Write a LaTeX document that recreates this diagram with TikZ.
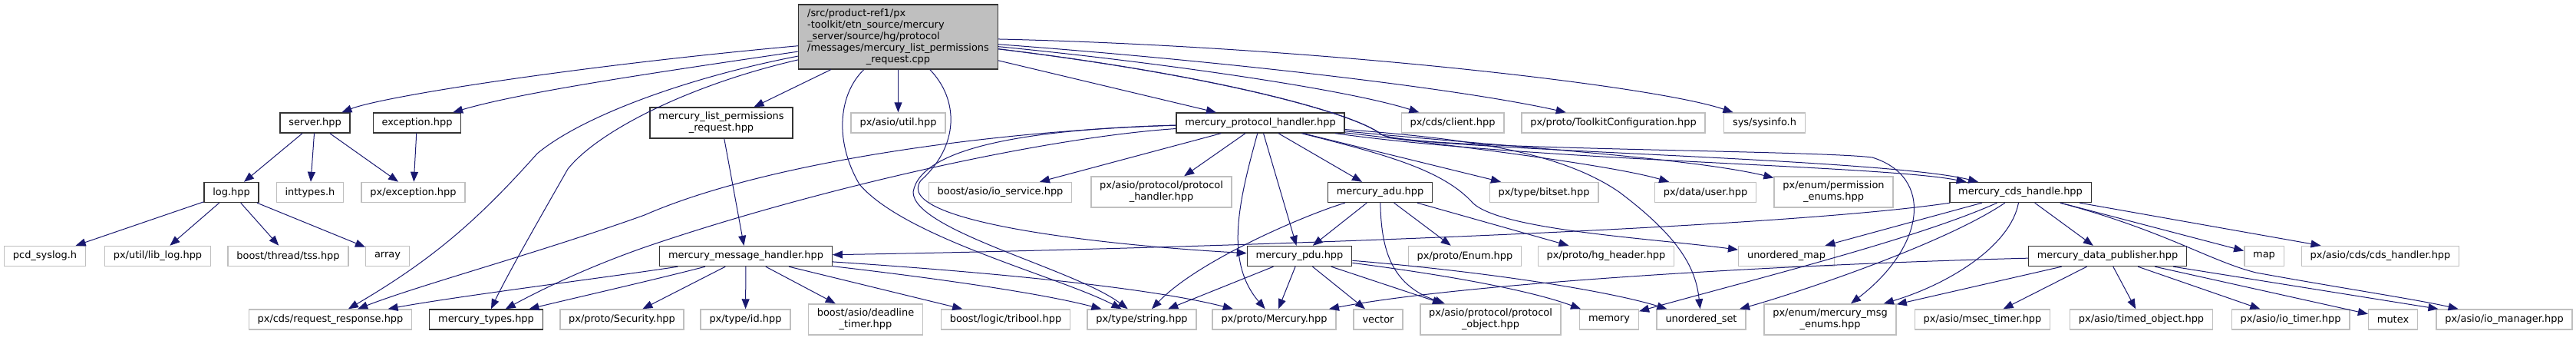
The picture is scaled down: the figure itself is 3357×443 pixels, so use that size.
\documentclass[tikz,border=0pt]{standalone}
\usepackage{fontspec}
\setmainfont{DejaVu Sans}
\usetikzlibrary{arrows.meta}
\definecolor{edgeblue}{HTML}{191970}
\definecolor{boxgrey}{HTML}{BFBFBF}

\begin{document}
\begin{tikzpicture}[x=0.75pt,y=-0.75pt,
  ext/.style={draw=boxgrey,line width=1.1pt,fill=white,inner xsep=8.5pt,inner ysep=0pt,
    minimum height=19.5pt,font=\fontsize{9.7}{11.25}\selectfont,align=center},
  doc/.style={ext,draw=black!80,line width=1pt},
  twoline/.style={minimum height=30pt},
  dep/.style={draw=edgeblue,line width=0.75pt,-{Triangle[length=9.75pt,width=7.5pt]}}]
 \useasboundingbox (0,0) rectangle (3357,443);
 \node[doc,fill=boxgrey,minimum height=63pt] at (1170.5,48) (root) {\begin{tabular}{@{}l@{}}
   /src/product-ref1/px\\
   -toolkit/etn\_source/mercury\\
   \_server/source/hg/protocol\\
   /messages/mercury\_list\_permissions\\
   \multicolumn{1}{@{}c@{}}{\_request.cpp}
 \end{tabular}};
 \node[doc] at (410.5,160) (server) {server.hpp};
 \node[doc] at (543.5,160) (excp) {exception.hpp};
 \node[doc,twoline] at (940,160) (lpreq) {mercury\_list\_permissions\\\_request.hpp};
 \node[ext] at (1170.5,160) (asioutil) {px/asio/util.hpp};
 \node[doc] at (1642.5,160) (proth) {mercury\_protocol\_handler.hpp};
 \node[ext] at (1893,160) (cdscl) {px/cds/client.hpp};
 \node[ext] at (2102.5,160) (tkcfg) {px/proto/ToolkitConfiguration.hpp};
 \node[ext] at (2299.5,160) (sysinfo) {sys/sysinfo.h};
 \node[doc] at (301.5,250.5) (log) {log.hpp};
 \node[ext] at (404,250.5) (inttypes) {inttypes.h};
 \node[ext] at (538.5,250.5) (pxexc) {px/exception.hpp};
 \node[ext] at (1303.5,250.5) (iosvc) {boost/asio/io\_service.hpp};
 \node[ext,twoline] at (1513.5,250) (aproth) {px/asio/protocol/protocol\\\_handler.hpp};
 \node[doc] at (1798.5,250.5) (adu) {mercury\_adu.hpp};
 \node[ext] at (2012,250.5) (bitset) {px/type/bitset.hpp};
 \node[ext] at (2222.5,250.5) (user) {px/data/user.hpp};
 \node[ext,twoline] at (2389.5,250) (permenum) {px/enum/permission\\\_enums.hpp};
 \node[doc] at (2633,250.5) (cdsh) {mercury\_cds\_handle.hpp};
 \node[ext] at (58.5,333.5) (syslog) {pcd\_syslog.h};
 \node[ext] at (205.5,333.5) (liblog) {px/util/lib\_log.hpp};
 \node[ext] at (375.5,333.5) (tss) {boost/thread/tss.hpp};
 \node[ext] at (505,333.5) (array) {array};
 \node[doc] at (972,333.5) (msgh) {mercury\_message\_handler.hpp};
 \node[doc] at (1693.5,333.5) (pdu) {mercury\_pdu.hpp};
 \node[ext] at (1909,333.5) (enum) {px/proto/Enum.hpp};
 \node[ext] at (2093,333.5) (hghdr) {px/proto/hg\_header.hpp};
 \node[ext] at (2328,333.5) (umap) {unordered\_map};
 \node[doc] at (2746.5,333.5) (dpub) {mercury\_data\_publisher.hpp};
 \node[ext] at (2950.5,333.5) (map) {map};
 \node[ext] at (3102,333.5) (cdshdl) {px/asio/cds/cds\_handler.hpp};
 \node[ext] at (430.5,416) (reqresp) {px/cds/request\_response.hpp};
 \node[doc] at (633.5,416) (types) {mercury\_types.hpp};
 \node[ext] at (810.5,416) (security) {px/proto/Security.hpp};
 \node[ext] at (971.5,416) (typeid) {px/type/id.hpp};
 \node[ext,twoline] at (1128,416) (deadline) {boost/asio/deadline\\\_timer.hpp};
 \node[ext] at (1310.5,416) (tribool) {boost/logic/tribool.hpp};
 \node[ext] at (1488,416) (string) {px/type/string.hpp};
 \node[ext] at (1660.5,416) (mercury) {px/proto/Mercury.hpp};
 \node[ext] at (1796,416) (vector) {vector};
 \node[ext,twoline] at (1942.5,416) (protobj) {px/asio/protocol/protocol\\\_object.hpp};
 \node[ext] at (2097,416) (memory) {memory};
 \node[ext] at (2217,416) (uset) {unordered\_set};
 \node[ext,twoline] at (2385,416) (msgenum) {px/enum/mercury\_msg\\\_enums.hpp};
 \node[ext] at (2583.5,416) (msec) {px/asio/msec\_timer.hpp};
 \node[ext] at (2790.5,416) (timed) {px/asio/timed\_object.hpp};
 \node[ext] at (2985,416) (iotimer) {px/asio/io\_timer.hpp};
 \node[ext] at (3118.5,416) (mutex) {mutex};
 \node[ext] at (3263.5,416) (ioman) {px/asio/io\_manager.hpp};

 \draw[dep] (root) .. controls (760,85) and (500,125) .. (server);
 \draw[dep] (root) .. controls (850,95) and (680,120) .. (excp);
 \draw[dep] (root) .. controls (900,100) and (760,150) .. (700,200) .. controls (620,290) and (560,340) .. (reqresp);
 \draw[dep] (root) .. controls (900,110) and (780,170) .. (740,220) .. controls (700,290) and (660,360) .. (types);
 \draw[dep] (root) -- (lpreq);
 \draw[dep] (root) -- (asioutil);
 \draw[dep] (root) .. controls (1095,120) and (1085,180) .. (1120,240) .. controls (1180,310) and (1380,360) .. (string);
 \draw[dep] (root) .. controls (1250,130) and (1250,190) .. (1200,235) .. controls (1160,290) and (1450,320) .. (pdu);
 \draw[dep] (root) -- (proth);
 \draw[dep] (root) .. controls (1500,80) and (1750,115) .. (cdscl);
 \draw[dep] (root) .. controls (1600,80) and (1900,115) .. (tkcfg);
 \draw[dep] (root) .. controls (1700,60) and (2150,110) .. (sysinfo);
 \draw[dep] (root) .. controls (1600,100) and (1770,150) .. (1800,175) .. controls (1830,195) and (2360,195) .. (2440,205) .. controls (2520,230) and (2510,320) .. (msgenum);
 \draw[dep] (root) .. controls (1600,100) and (1770,150) .. (1800,175) .. controls (1830,195) and (2450,205) .. (cdsh);

 \draw[dep] (server) -- (log);
 \draw[dep] (server) -- (inttypes);
 \draw[dep] (server) -- (pxexc);
 \draw[dep] (excp) -- (pxexc);
 \draw[dep] (log) -- (syslog);
 \draw[dep] (log) -- (liblog);
 \draw[dep] (log) -- (tss);
 \draw[dep] (log) -- (array);
 \draw[dep] (lpreq) -- (msgh);

 \draw[dep] (proth) .. controls (1300,170) and (1000,210) .. (840,280) .. controls (700,330) and (550,370) .. (reqresp);
 \draw[dep] (proth) .. controls (1350,180) and (1050,250) .. (840,322) .. controls (760,350) and (700,380) .. (types);
 \draw[dep] (proth) .. controls (1350,168) and (1200,190) .. (1190,250) .. controls (1190,300) and (1400,350) .. (string);
 \draw[dep] (proth) -- (iosvc);
 \draw[dep] (proth) -- (aproth);
 \draw[dep] (proth) -- (adu);
 \draw[dep] (proth) -- (pdu);
 \draw[dep] (proth) .. controls (1615,260) and (1595,340) .. (mercury);
 \draw[dep] (proth) -- (bitset);
 \draw[dep] (proth) .. controls (1900,190) and (2100,215) .. (user);
 \draw[dep] (proth) .. controls (1950,190) and (2200,205) .. (permenum);
 \draw[dep] (proth) .. controls (2000,210) and (2450,215) .. (cdsh);
 \draw[dep] (proth) .. controls (1800,200) and (1880,220) .. (1920,265) .. controls (1960,300) and (2150,310) .. (umap);
 \draw[dep] (proth) .. controls (1900,180) and (2030,195) .. (2110,250) .. controls (2190,310) and (2210,350) .. (uset);

 \draw[dep] (adu) .. controls (1700,280) and (1560,340) .. (string);
 \draw[dep] (adu) -- (pdu);
 \draw[dep] (adu) .. controls (1800,320) and (1810,370) .. (protobj);
 \draw[dep] (adu) -- (enum);
 \draw[dep] (adu) -- (hghdr);

 \draw[dep] (pdu) -- (string);
 \draw[dep] (pdu) -- (mercury);
 \draw[dep] (pdu) -- (vector);
 \draw[dep] (pdu) -- (protobj);
 \draw[dep] (pdu) .. controls (1900,360) and (2000,380) .. (memory);
 \draw[dep] (pdu) .. controls (1950,355) and (2100,380) .. (uset);

 \draw[dep] (msgh) .. controls (800,360) and (600,385) .. (reqresp);
 \draw[dep] (msgh) .. controls (850,365) and (740,390) .. (types);
 \draw[dep] (msgh) -- (security);
 \draw[dep] (msgh) -- (typeid);
 \draw[dep] (msgh) -- (deadline);
 \draw[dep] (msgh) -- (tribool);
 \draw[dep] (msgh) .. controls (1200,360) and (1350,380) .. (string);
 \draw[dep] (msgh) .. controls (1300,355) and (1500,375) .. (mercury);

 \draw[dep] (cdsh) .. controls (2300,300) and (1500,325) .. (msgh);
 \draw[dep] (cdsh) -- (umap);
 \draw[dep] (cdsh) .. controls (2500,310) and (2300,360) .. (memory);
 \draw[dep] (cdsh) .. controls (2530,320) and (2330,385) .. (uset);
 \draw[dep] (cdsh) .. controls (2620,320) and (2540,370) .. (msgenum);
 \draw[dep] (cdsh) -- (dpub);
 \draw[dep] (cdsh) -- (map);
 \draw[dep] (cdsh) -- (cdshdl);
 \draw[dep] (cdsh) .. controls (2820,300) and (2880,340) .. (2940,355) .. controls (3050,375) and (3150,390) .. (ioman);

 \draw[dep] (dpub) .. controls (2300,345) and (1900,370) .. (mercury);
 \draw[dep] (dpub) -- (msgenum);
 \draw[dep] (dpub) -- (msec);
 \draw[dep] (dpub) -- (timed);
 \draw[dep] (dpub) -- (iotimer);
 \draw[dep] (dpub) -- (mutex);
 \draw[dep] (dpub) -- (ioman);
\end{tikzpicture}
\end{document}
